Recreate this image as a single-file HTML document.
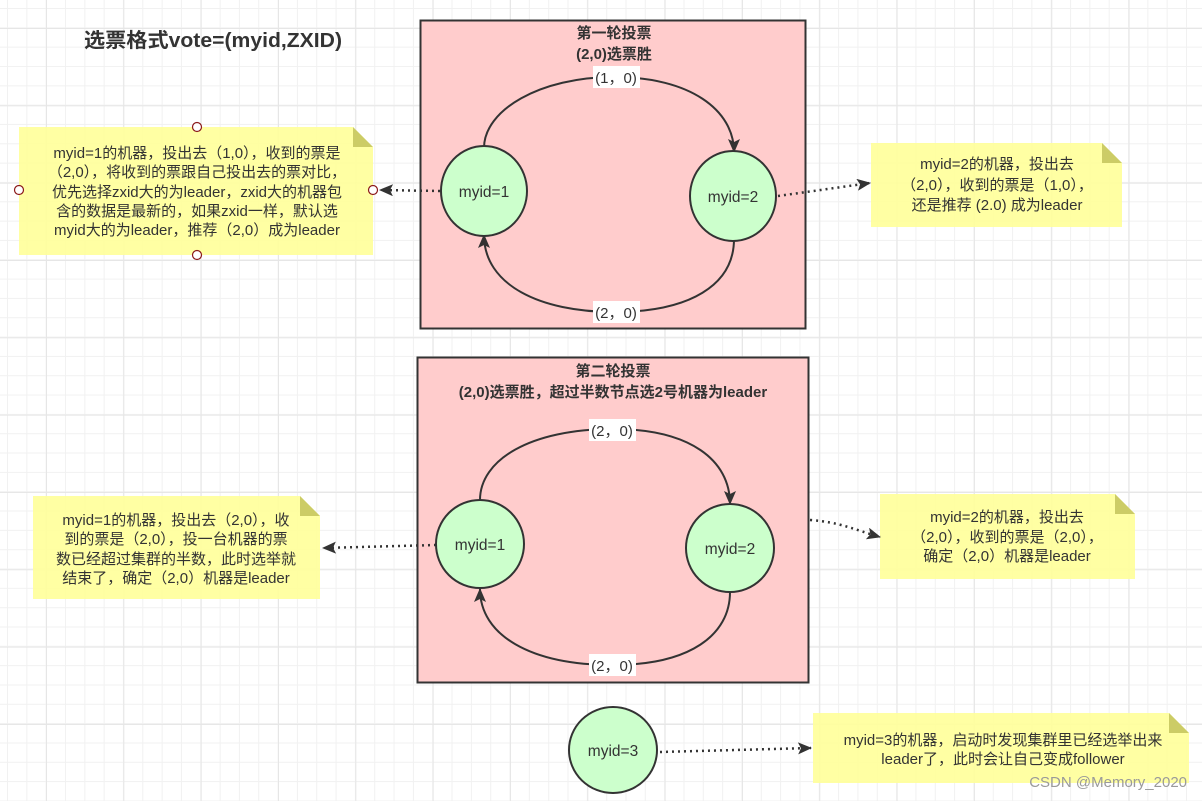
<!DOCTYPE html>
<html><head><meta charset="utf-8"><style>
html,body{margin:0;padding:0;}
body{width:1202px;height:801px;overflow:hidden;background:#fff;
background-image:
linear-gradient(to right,#e6e6e6 1px,transparent 1px),
linear-gradient(to bottom,#e6e6e6 1px,transparent 1px),
linear-gradient(to right,#f1f1f1 1px,transparent 1px),
linear-gradient(to bottom,#f1f1f1 1px,transparent 1px);
background-size:77.33px 77.33px,77.33px 77.33px,19.33px 19.33px,19.33px 19.33px;
background-position:46px 28px,46px 28px,7px 8px,7px 8px;}
svg{position:absolute;left:0;top:0;}
text{font-family:"Liberation Sans","Noto Sans CJK SC",sans-serif;fill:#333;}
</style></head><body>
<svg width="1202" height="801" viewBox="0 0 1202 801">
<defs>
<marker id="ah2" markerWidth="14" markerHeight="12" refX="13" refY="6" orient="auto" markerUnits="userSpaceOnUse">
<path d="M0,0 L14,6 L0,12 L3,6 Z" fill="#333"/></marker>
</defs>

<text x="213" y="47" font-size="20" font-weight="bold" text-anchor="middle" textLength="258" lengthAdjust="spacingAndGlyphs">选票格式vote=(myid,ZXID)</text>

<!-- Box 1 -->
<rect x="420.5" y="20.5" width="385" height="308" fill="#ffcccc" stroke="#333" stroke-width="2"/>
<text x="614" y="38" font-size="15" font-weight="bold" text-anchor="middle">第一轮投票</text>
<text x="614" y="59" font-size="15" font-weight="bold" text-anchor="middle">(2,0)选票胜</text>
<path d="M484,148 C484,110 540,77 614,77 C690,77 734,110 734,152" fill="none" stroke="#333" stroke-width="2" marker-end="url(#ah2)"/>
<path d="M734,239 C734,285 690,312 614,312 C540,312 484,285 484,235" fill="none" stroke="#333" stroke-width="2" marker-end="url(#ah2)"/>
<rect x="593" y="66" width="47" height="22" fill="#fff"/>
<text x="616" y="83" font-size="15" text-anchor="middle">(1，0)</text>
<rect x="593" y="301" width="47" height="22" fill="#fff"/>
<text x="616" y="318" font-size="15" text-anchor="middle">(2，0)</text>
<ellipse cx="484" cy="191" rx="43" ry="45" fill="#ccffcc" stroke="#333" stroke-width="2"/>
<text x="484" y="197" font-size="15.5" text-anchor="middle">myid=1</text>
<ellipse cx="733" cy="196" rx="43" ry="45" fill="#ccffcc" stroke="#333" stroke-width="2"/>
<text x="733" y="202" font-size="15.5" text-anchor="middle">myid=2</text>

<!-- Note 1 -->
<path d="M19,127 L353,127 L373,147 L373,255 L19,255 Z" fill="#ffff99" opacity="0.9"/>
<path d="M353,127 L373,147 L353,147 Z" fill="#cccc66"/>
<g font-size="15" text-anchor="middle">
<text x="197" y="158">myid=1的机器，投出去（1,0），收到的票是</text>
<text x="197" y="177">（2,0），将收到的票跟自己投出去的票对比，</text>
<text x="197" y="197">优先选择zxid大的为leader，zxid大的机器包</text>
<text x="197" y="216">含的数据是最新的，如果zxid一样，默认选</text>
<text x="197" y="235">myid大的为leader，推荐（2,0）成为leader</text>
</g>
<g fill="#fff" stroke="#8b1a1a" stroke-width="1.2">
<circle cx="197" cy="127" r="4.5"/><circle cx="19" cy="190" r="4.5"/>
<circle cx="373" cy="190" r="4.5"/><circle cx="197" cy="255" r="4.5"/>
</g>
<path d="M440,191 L380,190" stroke="#333" stroke-width="2.5" stroke-dasharray="2,4" fill="none" marker-end="url(#ah2)"/>

<!-- Note 2 -->
<path d="M871,143 L1102,143 L1122,163 L1122,227 L871,227 Z" fill="#ffff99" opacity="0.9"/>
<path d="M1102,143 L1122,163 L1102,163 Z" fill="#cccc66"/>
<g font-size="15" text-anchor="middle">
<text x="997" y="169">myid=2的机器，投出去</text>
<text x="997" y="190">（2,0），收到的票是（1,0），</text>
<text x="997" y="210">还是推荐 (2.0) 成为leader</text>
</g>
<path d="M778,196 L870,183" stroke="#333" stroke-width="2.5" stroke-dasharray="2,4" fill="none" marker-end="url(#ah2)"/>

<!-- Box 2 -->
<rect x="417.5" y="357.5" width="391" height="325" fill="#ffcccc" stroke="#333" stroke-width="2"/>
<text x="613" y="376" font-size="15" font-weight="bold" text-anchor="middle">第二轮投票</text>
<text x="613" y="397" font-size="15" font-weight="bold" text-anchor="middle">(2,0)选票胜，超过半数节点选2号机器为leader</text>
<path d="M480,500 C480,460 530,429 613,429 C690,429 730,460 730,504" fill="none" stroke="#333" stroke-width="2" marker-end="url(#ah2)"/>
<path d="M730,592 C730,635 690,665 613,665 C530,665 480,635 480,589" fill="none" stroke="#333" stroke-width="2" marker-end="url(#ah2)"/>
<rect x="589" y="419" width="47" height="22" fill="#fff"/>
<text x="612" y="436" font-size="15" text-anchor="middle">(2，0)</text>
<rect x="589" y="654" width="47" height="22" fill="#fff"/>
<text x="612" y="671" font-size="15" text-anchor="middle">(2，0)</text>
<ellipse cx="480" cy="544" rx="44" ry="44" fill="#ccffcc" stroke="#333" stroke-width="2"/>
<text x="480" y="550" font-size="15.5" text-anchor="middle">myid=1</text>
<ellipse cx="730" cy="548" rx="44" ry="44" fill="#ccffcc" stroke="#333" stroke-width="2"/>
<text x="730" y="554" font-size="15.5" text-anchor="middle">myid=2</text>

<!-- Note 3 -->
<path d="M33,496 L300,496 L320,516 L320,599 L33,599 Z" fill="#ffff99" opacity="0.9"/>
<path d="M300,496 L320,516 L300,516 Z" fill="#cccc66"/>
<g font-size="15" text-anchor="middle">
<text x="176" y="525">myid=1的机器，投出去（2,0），收</text>
<text x="176" y="544">到的票是（2,0），投一台机器的票</text>
<text x="176" y="564">数已经超过集群的半数，此时选举就</text>
<text x="176" y="583">结束了，确定（2,0）机器是leader</text>
</g>
<path d="M436,545 L323,548" stroke="#333" stroke-width="2.5" stroke-dasharray="2,4" fill="none" marker-end="url(#ah2)"/>

<!-- Note 4 -->
<path d="M880,494 L1115,494 L1135,514 L1135,579 L880,579 Z" fill="#ffff99" opacity="0.9"/>
<path d="M1115,494 L1135,514 L1115,514 Z" fill="#cccc66"/>
<g font-size="15" text-anchor="middle">
<text x="1007" y="522">myid=2的机器，投出去</text>
<text x="1007" y="542">（2,0），收到的票是（2,0），</text>
<text x="1007" y="561">确定（2,0）机器是leader</text>
</g>
<path d="M810,520 C840,522 855,530 880,537" stroke="#333" stroke-width="2.5" stroke-dasharray="2,4" fill="none" marker-end="url(#ah2)"/>

<!-- myid=3 -->
<ellipse cx="613" cy="750" rx="44" ry="43" fill="#ccffcc" stroke="#333" stroke-width="2"/>
<text x="613" y="756" font-size="15.5" text-anchor="middle">myid=3</text>
<path d="M813,713 L1169,713 L1189,733 L1189,783 L813,783 Z" fill="#ffff99" opacity="0.9"/>
<path d="M1169,713 L1189,733 L1169,733 Z" fill="#cccc66"/>
<g font-size="15" text-anchor="middle">
<text x="1003" y="745">myid=3的机器，启动时发现集群里已经选举出来</text>
<text x="1003" y="764">leader了，此时会让自己变成follower</text>
</g>
<path d="M660,752 L811,748" stroke="#333" stroke-width="2.5" stroke-dasharray="2,4" fill="none" marker-end="url(#ah2)"/>

<text x="1187" y="787" font-size="15" text-anchor="end" style="fill:#9a9a9a">CSDN @Memory_2020</text>
</svg>
</body></html>
